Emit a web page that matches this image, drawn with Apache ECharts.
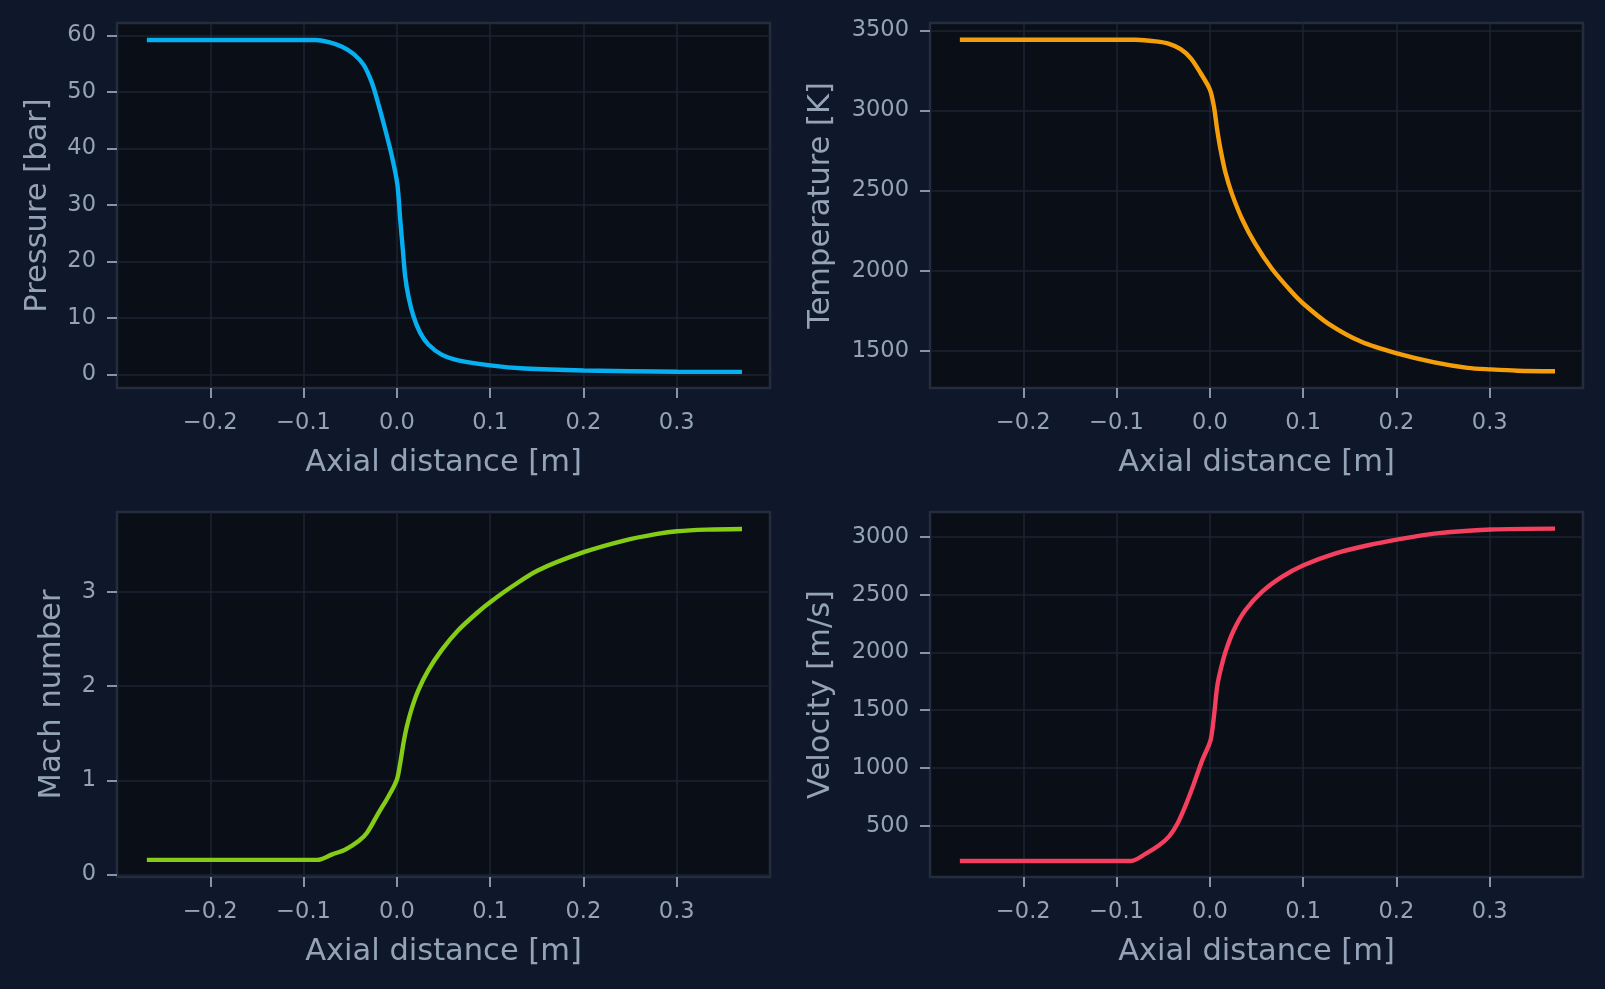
<!DOCTYPE html>
<html>
<head>
<meta charset="utf-8">
<script src="https://cdn.jsdelivr.net/npm/echarts@6/dist/echarts.min.js"></script>
<style>
  html, body { margin: 0; padding: 0; background: #0f172a; }
  #chart { width: 1605px; height: 989px; }
</style>
</head>
<body>
<div id="chart"></div>
<script>
// axial position [m] and values, one pair of arrays per panel
var pressureX = [-0.268, -0.0871, -0.0729, -0.0587, -0.0462, -0.0356, -0.0267, -0.0196, -0.0124, -0.0053, 0.0005,
    0.0036, 0.0064, 0.0089, 0.0124, 0.0178, 0.0249, 0.0338, 0.048, 0.0658, 0.1003, 0.1369, 0.2002, 0.3004, 0.370];
var pressureVals = [59.2, 59.2, 58.8, 58.0, 56.7, 54.8, 51.6, 47.7, 43.3, 38.6, 33.7,
    27.4, 22.1, 17.4, 13.8, 10.3, 7.4, 5.3, 3.5, 2.5, 1.6, 1.05, 0.7, 0.48, 0.45];

var tempX = [-0.268, -0.0793, -0.058, -0.0437, -0.0313, -0.0206, -0.010, 0.0, 0.0043, 0.0078, 0.0114, 0.0167,
    0.0238, 0.0345, 0.0487, 0.0665, 0.0878, 0.1003, 0.1269, 0.1625, 0.2005, 0.2407, 0.2763, 0.3012, 0.3296, 0.370];
var tempVals = [3441, 3441, 3431, 3416, 3383, 3327, 3234, 3131, 3027, 2882, 2758, 2613,
    2478, 2323, 2167, 2012, 1867, 1794, 1670, 1556, 1484, 1428, 1394, 1384, 1376, 1373];

var machX = [-0.268, -0.0853, -0.0693, -0.0551, -0.0409, -0.032, -0.0196, -0.0089, 0.0, 0.0036, 0.0071, 0.0107,
    0.016, 0.0231, 0.0338, 0.048, 0.0658, 0.0871, 0.1003, 0.1227, 0.1511, 0.2002, 0.2436, 0.2791, 0.3004, 0.3324, 0.370];
var machVals = [0.155, 0.155, 0.213, 0.266, 0.355, 0.443, 0.654, 0.831, 1.007, 1.183, 1.395, 1.571,
    1.765, 1.959, 2.171, 2.383, 2.594, 2.788, 2.894, 3.053, 3.229, 3.423, 3.547, 3.617, 3.646, 3.663, 3.670];

var velX = [-0.268, -0.0846, -0.0686, -0.0544, -0.0437, -0.0348, -0.026, -0.0171, -0.0082, 0.0007, 0.0043, 0.0078,
    0.0114, 0.0167, 0.0256, 0.038, 0.0558, 0.0772, 0.1003, 0.134, 0.1696, 0.2005, 0.2407, 0.3012, 0.370];
var velVals = [195, 195, 258, 330, 408, 517, 676, 864, 1066, 1239, 1441, 1701,
    1845, 2004, 2192, 2365, 2524, 2654, 2755, 2856, 2928, 2977, 3029, 3064, 3072];

// tick labels
var xTicks = [-0.2, -0.1, 0.0, 0.1, 0.2, 0.3];
var pressureTicks = [0, 10, 20, 30, 40, 50, 60];
var tempTicks = [1500, 2000, 2500, 3000, 3500];
var machTicks = [0, 1, 2, 3];
var velTicks = [500, 1000, 1500, 2000, 2500, 3000];

var TEXT = '#94a3b8';
var GRIDLINE = '#1c2433';
var FONT = 'DejaVu Sans';

function pairs(xs, ys) {
    var out = [];
    for (var i = 0; i < xs.length; i++) out.push([xs[i], ys[i]]);
    return out;
}

// matplotlib style minus sign
function fmtX(v) {
    var s = (Math.round(v * 10) / 10).toFixed(1);
    return v < -1e-9 ? '\u2212' + s.substring(1) : s;
}

function fmtY(v) {
    return String(Math.round(v));
}

function makeGrid(left, top) {
    return {
        left: left, top: top, width: 653, height: 365,
        show: true, backgroundColor: '#0a0e16',
        borderColor: '#242d3d', borderWidth: 2.5
    };
}

function makeX(idx) {
    return {
        type: 'value', gridIndex: idx,
        min: -0.3, max: 0.4, interval: 0.1,
        name: 'Axial distance [m]', nameLocation: 'middle', nameGap: 60,
        nameTextStyle: { color: TEXT, fontSize: 30.5, fontFamily: FONT },
        axisLine: { show: false, onZero: false },
        axisTick: { show: true, length: 10, lineStyle: { color: TEXT, width: 1.8 }, customValues: xTicks },
        axisLabel: { color: TEXT, fontSize: 22.5, fontFamily: FONT, margin: 24, customValues: xTicks, formatter: fmtX },
        splitLine: { show: true, lineStyle: { color: GRIDLINE, width: 1.5 } }
    };
}

function makeY(idx, name, min, max, ticks, gap) {
    return {
        type: 'value', gridIndex: idx,
        min: min, max: max,
        name: name, nameLocation: 'middle', nameGap: gap, nameRotate: 90,
        nameTextStyle: { color: TEXT, fontSize: 30.5, fontFamily: FONT },
        axisLine: { show: false, onZero: false },
        axisTick: { show: true, length: 10, lineStyle: { color: TEXT, width: 1.8 }, customValues: ticks },
        axisLabel: { color: TEXT, fontSize: 22.5, fontFamily: FONT, margin: 21, padding: [4, 0, 0, 0],
            customValues: ticks, formatter: fmtY },
        splitLine: { show: true, lineStyle: { color: GRIDLINE, width: 1.5 } }
    };
}

function makeLine(idx, data, color) {
    return {
        type: 'line', xAxisIndex: idx, yAxisIndex: idx,
        data: data, showSymbol: false, symbol: 'none',
        smooth: 0.3,
        lineStyle: { color: color, width: 4.4 },
        silent: true
    };
}

var myChart = echarts.init(document.getElementById('chart'));
var option = {
    backgroundColor: '#0f172a',
    animation: false,
    grid: [makeGrid(117, 23), makeGrid(930, 23), makeGrid(117, 512), makeGrid(930, 512)],
    xAxis: [makeX(0), makeX(1), makeX(2), makeX(3)],
    yAxis: [
        makeY(0, 'Pressure [bar]', -2.4, 62.2, pressureTicks, 63),
        makeY(1, 'Temperature [K]', 1268, 3546, tempTicks, 93),
        makeY(2, 'Mach number', -0.027, 3.85, machTicks, 49),
        makeY(3, 'Velocity [m/s]', 56, 3216, velTicks, 93)
    ],
    series: [
        makeLine(0, pairs(pressureX, pressureVals), '#06b0f0'),
        makeLine(1, pairs(tempX, tempVals), '#f59e0b'),
        makeLine(2, pairs(machX, machVals), '#84cc16'),
        makeLine(3, pairs(velX, velVals), '#f43f5e')
    ]
};
myChart.setOption(option);
</script>
</body>
</html>
